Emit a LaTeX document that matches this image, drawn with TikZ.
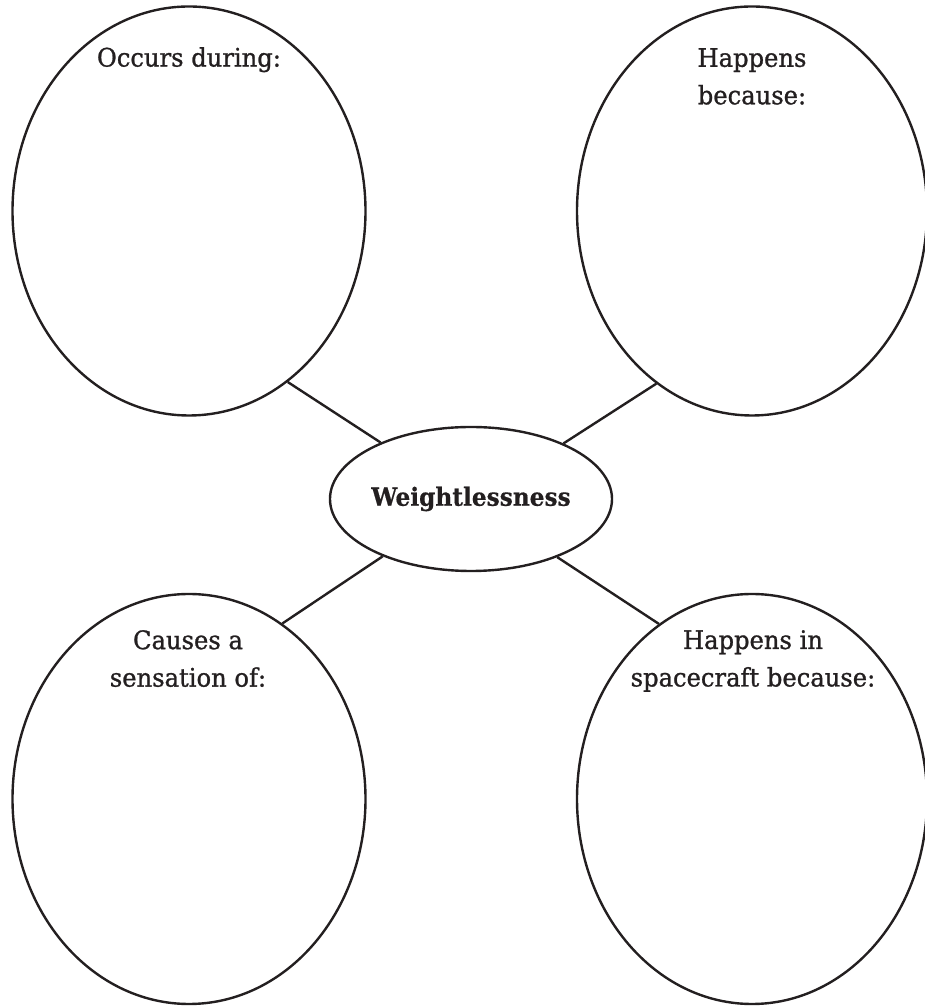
\documentclass[tikz,border=0pt]{standalone}
\usepackage{fontspec}
\setmainfont{DejaVu Serif}
\newfontfamily\capfont[FakeStretch=0.95,FakeBold=1.0]{DejaVu Serif}
\newfontfamily\hubfont[FakeStretch=0.93,FakeBold=0.5]{DejaVu Serif}
\usetikzlibrary{shapes.geometric}
\definecolor{ink}{HTML}{231F20}
\tikzset{
  bubble/.style={ellipse, draw=ink, line width=2.4pt, inner sep=0pt},
  hub/.style={bubble, minimum width=264pt, minimum height=144pt,
    font={\hubfont\bfseries\fontsize{25}{30}\selectfont}, text=ink},
  spoke/.style={draw=ink, line width=2.4pt},
  caption/.style={anchor=north, align=center, inner sep=0pt, text=ink,
    font={\capfont\fontsize{25.5}{37.5}\selectfont}}
}
\begin{document}
\begin{tikzpicture}[x=1pt, y=1pt]
  \useasboundingbox (0,0) rectangle (924,1007);

  % central topic
  \node[hub] (w) at (471,508) {Weightlessness};

  % four surrounding bubbles
  \node[bubble, minimum width=353pt, minimum height=409pt] (tl) at (189,796) {};
  \node[bubble, minimum width=350pt, minimum height=409pt] (tr) at (752,796) {};
  \node[bubble, minimum width=353pt, minimum height=410pt] (bl) at (189,208) {};
  \node[bubble, minimum width=350pt, minimum height=410pt] (br) at (752,208) {};

  % bubble headings
  \node[caption] (tlt) at (189,960) {Occurs during:};
  \node[caption] (trt) at (752,959) {Happens\\because:};
  \node[caption] (blt) at (188,377) {Causes a\\sensation of:};
  \node[caption] (brt) at (753,377) {Happens in\\spacecraft because:};

  % spokes from the topic to each bubble
  \draw[spoke] (w.148.4) -- (tl.-60.4);
  \draw[spoke] (w.31.7) -- (tr.-119.1);
  \draw[spoke] (w.213.8) -- (bl.62.3);
  \draw[spoke] (w.-34.8) -- (br.118.2);
\end{tikzpicture}
\end{document}
